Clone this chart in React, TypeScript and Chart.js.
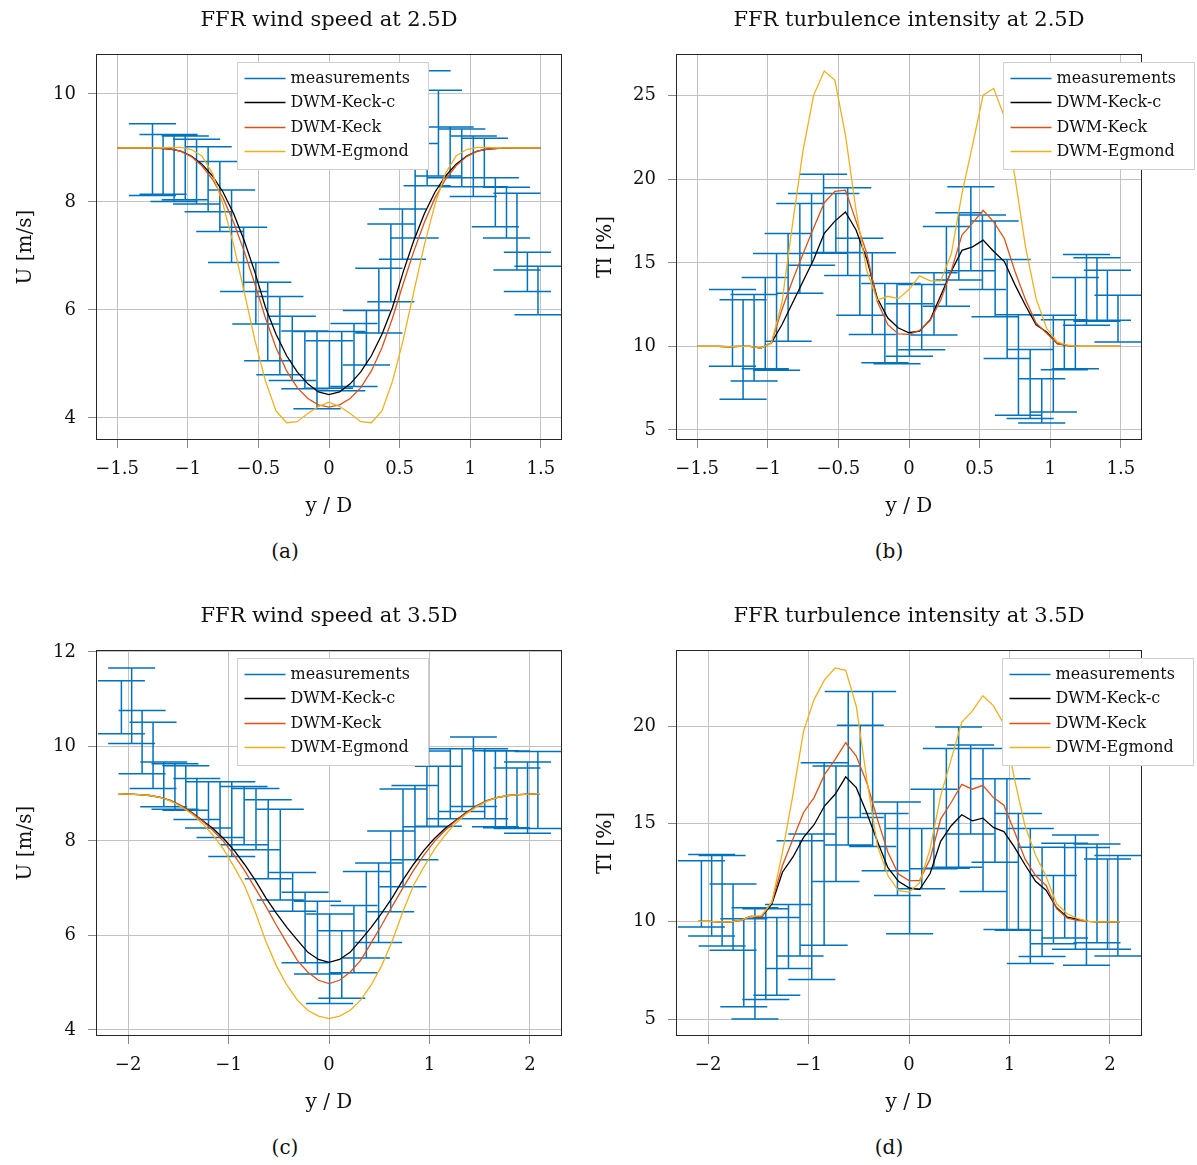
import React, { useEffect, useRef } from 'react';
import { Chart, registerables } from 'chart.js';

Chart.register(...registerables);

const FONT = "'DejaVu Serif', 'Liberation Serif', serif";
const BLUE = '#0072BD';
const BLACK = '#000000';
const RED = '#D95319';
const YELLOW = '#EDB120';

// ---------- 2.5D ----------
const X_GRID_25 = [-1.5, -1.425, -1.35, -1.275, -1.2, -1.125, -1.05, -0.975, -0.9, -0.825, -0.75, -0.675, -0.6, -0.525, -0.45, -0.375, -0.3, -0.225, -0.15, -0.075, 0, 0.075, 0.15, 0.225, 0.3, 0.375, 0.45, 0.525, 0.6, 0.675, 0.75, 0.825, 0.9, 0.975, 1.05, 1.125, 1.2, 1.275, 1.35, 1.425, 1.5];

const U25_KECKC = [9.0, 9.0, 9.0, 9.0, 8.99, 8.98, 8.94, 8.85, 8.7, 8.48, 8.18, 7.78, 7.28, 6.7, 6.05, 5.55, 5.15, 4.85, 4.63, 4.48, 4.43, 4.48, 4.63, 4.85, 5.15, 5.55, 6.05, 6.7, 7.28, 7.78, 8.18, 8.48, 8.7, 8.85, 8.94, 8.98, 8.99, 9.0, 9.0, 9.0, 9.0];
const U25_KECK = [9.0, 9.0, 9.0, 9.0, 8.99, 8.98, 8.94, 8.84, 8.67, 8.42, 8.07, 7.62, 7.08, 6.48, 5.85, 5.3, 4.87, 4.56, 4.36, 4.24, 4.2, 4.24, 4.36, 4.56, 4.87, 5.3, 5.85, 6.48, 7.08, 7.62, 8.07, 8.42, 8.67, 8.84, 8.94, 8.98, 8.99, 9.0, 9.0, 9.0, 9.0];
const U25_EGMOND = [9.0, 9.0, 9.0, 9.0, 9.0, 9.01, 9.01, 8.97, 8.85, 8.53, 7.95, 7.2, 6.33, 5.44, 4.68, 4.13, 3.91, 3.93, 4.08, 4.21, 4.29, 4.21, 4.08, 3.93, 3.91, 4.13, 4.68, 5.44, 6.33, 7.2, 7.95, 8.53, 8.85, 8.97, 9.01, 9.01, 9.0, 9.0, 9.0, 9.0, 9.0];

const TI25_KECKC = [10.0, 10.0, 10.0, 9.98, 10.0, 10.0, 9.9, 10.2, 11.3, 12.6, 13.9, 15.2, 16.77, 17.5, 18.05, 16.97, 15.25, 12.9, 11.7, 11.1, 10.82, 10.92, 11.6, 13.05, 14.5, 15.75, 15.96, 16.36, 15.68, 15.08, 13.7, 12.45, 11.3, 10.87, 10.17, 10.05, 10.0, 10.0, 10.0, 10.0, 10.0];
const TI25_KECK = [10.0, 10.0, 10.0, 9.98, 10.0, 10.0, 9.9, 10.2, 12.2, 13.95, 15.55, 17.1, 18.6, 19.28, 19.35, 17.5, 15.6, 12.7, 11.3, 10.75, 10.72, 10.95, 11.55, 12.78, 14.55, 16.67, 17.38, 18.15, 17.45, 16.46, 14.5, 12.8, 11.4, 10.78, 10.17, 10.05, 10.0, 10.0, 10.0, 10.0, 10.0];
const TI25_EGMOND = [10.0, 10.0, 10.0, 9.98, 10.0, 10.0, 9.9, 10.2, 12.6, 17.3, 21.75, 25.04, 26.48, 25.94, 22.65, 18.15, 14.56, 12.77, 13.0, 12.86, 13.4, 14.22, 13.92, 13.92, 15.56, 19.15, 22.05, 25.04, 25.44, 23.74, 20.15, 15.96, 12.86, 11.07, 10.27, 10.07, 10.0, 10.0, 10.0, 10.0, 10.0];

const MEAS_X_25 = [-1.25, -1.175, -1.097, -1.018, -0.938, -0.856, -0.773, -0.69, -0.605, -0.518, -0.434, -0.348, -0.26, -0.171, -0.085, 0.003, 0.09, 0.177, 0.265, 0.353, 0.438, 0.52, 0.61, 0.695, 0.775, 0.858, 0.94, 1.022, 1.1, 1.178, 1.257, 1.331, 1.405, 1.48];
const U25_LO = [8.12, 8.14, 8.01, 8.04, 7.96, 7.82, 7.45, 6.88, 6.34, 5.74, 5.06, 4.8, 4.69, 4.54, 4.17, 4.55, 4.5, 4.58, 4.98, 5.57, 6.15, 6.94, 7.33, 8.3, 8.48, 8.45, 8.28, 8.1, 8.28, 7.54, 7.33, 6.74, 6.34, 5.91];
const U25_HI = [9.45, 9.25, 9.25, 9.22, 9.16, 9.02, 8.75, 8.22, 7.53, 6.88, 6.51, 6.25, 5.88, 5.61, 5.6, 5.43, 5.6, 5.75, 5.99, 6.77, 7.59, 7.87, 9.08, 10.43, 10.07, 9.39, 9.35, 9.22, 9.18, 8.45, 8.27, 8.16, 7.07, 6.81];
const TI25_LO = [8.81, 6.84, 7.93, 8.67, 8.57, 10.31, 13.18, 14.86, 15.57, 15.62, 14.24, 11.87, 10.72, 9.03, 8.97, 9.41, 9.8, 10.68, 12.41, 13.97, 14.53, 13.41, 11.77, 9.27, 5.88, 5.68, 5.42, 6.08, 8.6, 8.67, 11.27, 11.5, 11.57, 10.27];
const TI25_HI = [13.4, 12.8, 13.1, 14.12, 15.56, 16.76, 18.55, 19.15, 20.3, 19.15, 19.49, 16.47, 15.61, 13.76, 13.77, 12.56, 13.71, 14.41, 17.17, 18.0, 19.56, 17.86, 17.5, 15.2, 11.9, 9.82, 8.07, 11.87, 11.6, 14.12, 15.5, 15.3, 14.56, 13.06];

// ---------- 3.5D ----------
const X_GRID_35 = [-2.1, -1.995, -1.89, -1.785, -1.68, -1.575, -1.47, -1.365, -1.26, -1.155, -1.05, -0.945, -0.84, -0.735, -0.63, -0.525, -0.42, -0.315, -0.21, -0.105, 0, 0.105, 0.21, 0.315, 0.42, 0.525, 0.63, 0.735, 0.84, 0.945, 1.05, 1.155, 1.26, 1.365, 1.47, 1.575, 1.68, 1.785, 1.89, 1.995, 2.1];

const U35_KECKC = [9.0, 8.99, 8.98, 8.96, 8.92, 8.85, 8.74, 8.6, 8.43, 8.26, 8.05, 7.8, 7.5, 7.17, 6.8, 6.47, 6.17, 5.9, 5.64, 5.49, 5.43, 5.49, 5.64, 5.9, 6.17, 6.47, 6.8, 7.17, 7.5, 7.8, 8.05, 8.26, 8.43, 8.6, 8.74, 8.85, 8.92, 8.96, 8.98, 8.99, 9.0];
const U35_KECK = [9.0, 8.99, 8.98, 8.96, 8.92, 8.85, 8.74, 8.59, 8.42, 8.22, 7.99, 7.7, 7.37, 7.0, 6.62, 6.22, 5.84, 5.47, 5.22, 5.05, 4.98, 5.05, 5.22, 5.47, 5.84, 6.22, 6.62, 7.0, 7.37, 7.7, 7.99, 8.22, 8.42, 8.59, 8.74, 8.85, 8.92, 8.96, 8.98, 8.99, 9.0];
const U35_EGMOND = [9.0, 8.99, 8.98, 8.96, 8.92, 8.84, 8.72, 8.57, 8.37, 8.12, 7.82, 7.45, 7.05, 6.5, 5.88, 5.36, 4.95, 4.63, 4.41, 4.29, 4.24, 4.29, 4.41, 4.63, 4.95, 5.36, 5.88, 6.5, 7.05, 7.45, 7.82, 8.12, 8.37, 8.57, 8.72, 8.84, 8.92, 8.96, 8.98, 8.99, 9.0];

const TI35_KECKC = [10.0, 10.0, 9.98, 9.97, 10.05, 10.25, 10.22, 10.9, 12.52, 13.3, 14.3, 14.95, 15.92, 16.51, 17.4, 16.85, 15.55, 14.1, 12.75, 12.05, 11.72, 11.63, 12.45, 14.1, 14.9, 15.46, 15.15, 15.29, 14.81, 14.6, 13.8, 12.9, 12.05, 11.6, 10.7, 10.22, 10.1, 10.0, 9.98, 9.98, 9.98];
const TI35_KECK = [10.0, 10.0, 9.98, 9.97, 10.05, 10.25, 10.22, 11.0, 12.86, 14.22, 15.58, 16.34, 17.53, 18.3, 19.15, 18.47, 17.1, 15.24, 13.54, 12.43, 12.09, 12.09, 13.2, 15.24, 16.09, 17.02, 16.77, 16.97, 16.34, 15.95, 14.6, 13.2, 12.35, 11.84, 10.65, 10.17, 10.05, 10.0, 9.98, 9.98, 9.98];
const TI35_EGMOND = [10.0, 10.0, 9.98, 9.97, 10.05, 10.25, 10.3, 11.0, 13.54, 16.5, 19.74, 21.36, 22.38, 22.98, 22.86, 21.02, 17.28, 13.88, 12.35, 11.58, 11.5, 11.97, 13.71, 16.43, 18.3, 20.2, 20.77, 21.56, 21.05, 20.1, 17.3, 14.9, 13.4, 12.3, 10.9, 10.39, 10.14, 10.0, 9.98, 9.98, 9.98];

const MEAS_X_35 = [-2.067, -1.965, -1.861, -1.752, -1.645, -1.534, -1.426, -1.316, -1.2, -1.085, -0.968, -0.845, -0.727, -0.605, -0.485, -0.362, -0.238, -0.115, 0.006, 0.127, 0.248, 0.372, 0.494, 0.614, 0.737, 0.856, 0.975, 1.089, 1.208, 1.325, 1.438, 1.55, 1.657, 1.767, 1.872, 1.977, 2.08];
const U35_LO = [10.27, 10.06, 9.42, 9.11, 8.72, 8.67, 8.65, 8.45, 8.27, 8.07, 7.67, 7.92, 7.81, 7.2, 6.75, 6.51, 5.42, 5.18, 4.56, 4.67, 5.21, 5.52, 5.85, 6.5, 7.03, 7.6, 8.3, 8.31, 8.47, 8.62, 8.73, 8.47, 8.3, 8.28, 8.26, 8.16, 8.26];
const U35_HI = [11.39, 11.66, 10.76, 10.51, 9.67, 9.63, 9.59, 9.32, 9.25, 9.25, 9.25, 9.15, 9.11, 8.87, 8.67, 7.33, 6.91, 6.72, 6.45, 6.1, 6.63, 7.35, 7.53, 8.21, 9.1, 9.17, 9.9, 9.58, 9.95, 9.95, 10.2, 9.95, 9.91, 9.9, 9.54, 9.67, 9.89];
const TI35_LO = [9.71, 9.25, 8.74, 8.52, 5.63, 5.0, 6.0, 6.22, 7.59, 8.23, 7.02, 8.78, 12.04, 13.91, 15.32, 13.83, 12.6, 11.33, 9.37, 11.67, 12.7, 12.72, 12.77, 14.47, 11.53, 13.03, 9.59, 9.54, 7.84, 8.2, 8.86, 9.15, 8.57, 7.76, 8.9, 8.57, 8.23];
const TI35_HI = [13.11, 13.42, 13.37, 11.92, 10.14, 10.7, 10.65, 10.2, 10.87, 14.13, 14.47, 18.13, 17.96, 21.78, 20.05, 21.78, 15.53, 16.12, 14.76, 14.76, 16.77, 18.86, 19.95, 19.03, 18.86, 17.31, 17.31, 15.53, 14.76, 13.8, 12.35, 14.0, 14.42, 13.79, 13.96, 13.2, 13.37];

// ---------- axes ----------
const X_TICKS_25 = [-1.5, -1, -0.5, 0, 0.5, 1, 1.5];
const X_TICKS_35 = [-2, -1, 0, 1, 2];
const U25_TICKS = [4, 6, 8, 10];
const TI25_TICKS = [5, 10, 15, 20, 25];
const U35_TICKS = [4, 6, 8, 10, 12];
const TI35_TICKS = [5, 10, 15, 20];

const LEGEND_LABELS = ['measurements', 'DWM-Keck-c', 'DWM-Keck', 'DWM-Egmond'];

const CAP_25 = 0.167;
const CAP_35 = 0.234;

function errorBarPoints(xs: number[], lo: number[], hi: number[], cap: number) {
  const pts: { x: number; y: number | null }[] = [];
  for (let i = 0; i < xs.length; i++) {
    const x = xs[i];
    pts.push({ x: x - cap, y: hi[i] }, { x: x + cap, y: hi[i] }, { x, y: null });
    pts.push({ x, y: hi[i] }, { x, y: lo[i] }, { x, y: null });
    pts.push({ x: x - cap, y: lo[i] }, { x: x + cap, y: lo[i] }, { x, y: null });
  }
  return pts;
}

function xy(xs: number[], ys: number[]) {
  return xs.map((x, i) => ({ x, y: ys[i] }));
}

const fmt = (v: any) => {
  const n = Math.round(Number(v) * 1000) / 1000;
  return String(n).replace('-', '\u2212');
};

const framePlugin = {
  id: 'frame',
  afterDatasetsDraw(chart: any) {
    const { ctx, chartArea: a } = chart;
    ctx.save();
    ctx.strokeStyle = '#262626';
    ctx.lineWidth = 1;
    ctx.strokeRect(Math.round(a.left) + 0.5, Math.round(a.top) + 0.5, Math.round(a.right - a.left) - 1, Math.round(a.bottom - a.top) - 1);
    ctx.restore();
  },
};

const legendPlugin = {
  id: 'panelLegend',
  afterDraw(chart: any, _args: any, opts: any) {
    const { ctx, chartArea } = chart;
    const left = Math.round(chartArea.left + opts.offsetX) + 0.5;
    const top = Math.round(chartArea.top + opts.offsetY) + 0.5;
    ctx.save();
    ctx.fillStyle = '#ffffff';
    ctx.fillRect(left, top, opts.width, opts.height);
    ctx.strokeStyle = '#d0d0d0';
    ctx.lineWidth = 1;
    ctx.strokeRect(left, top, opts.width, opts.height);
    ctx.font = `16px ${FONT}`;
    ctx.textBaseline = 'middle';
    ctx.textAlign = 'left';
    chart.data.datasets.forEach((ds: any, i: number) => {
      const y = Math.round(top + 15 + i * 24.5) + 0.5;
      ctx.strokeStyle = ds.borderColor;
      ctx.lineWidth = 1.4;
      ctx.beginPath();
      ctx.moveTo(left + 7, y);
      ctx.lineTo(left + 48, y);
      ctx.stroke();
      ctx.fillStyle = '#111111';
      ctx.fillText(ds.label, left + 53, y);
    });
    ctx.restore();
  },
};

type Panel = {
  title: string;
  yTitle: string;
  xMin: number;
  xMax: number;
  yMin: number;
  yMax: number;
  xTicks: number[];
  yTicks: number[];
  grid: number[];
  keckc: number[];
  keck: number[];
  egmond: number[];
  measX: number[];
  lo: number[];
  hi: number[];
  cap: number;
  left: number;
  top: number;
  width: number;
  legendX: number;
};

const PANELS: Panel[] = [
  { title: 'FFR wind speed at 2.5D', yTitle: 'U [m/s]', xMin: -1.65, xMax: 1.65, yMin: 3.59, yMax: 10.74, xTicks: X_TICKS_25, yTicks: U25_TICKS, grid: X_GRID_25, keckc: U25_KECKC, keck: U25_KECK, egmond: U25_EGMOND, measX: MEAS_X_25, lo: U25_LO, hi: U25_HI, cap: CAP_25, left: 0, top: 0, width: 600, legendX: 141 },
  { title: 'FFR turbulence intensity at 2.5D', yTitle: 'TI [%]', xMin: -1.65, xMax: 1.65, yMin: 4.4, yMax: 27.5, xTicks: X_TICKS_25, yTicks: TI25_TICKS, grid: X_GRID_25, keckc: TI25_KECKC, keck: TI25_KECK, egmond: TI25_EGMOND, measX: MEAS_X_25, lo: TI25_LO, hi: TI25_HI, cap: CAP_25, left: 580, top: 0, width: 617, legendX: 327 },
  { title: 'FFR wind speed at 3.5D', yTitle: 'U [m/s]', xMin: -2.32, xMax: 2.32, yMin: 3.87, yMax: 12.04, xTicks: X_TICKS_35, yTicks: U35_TICKS, grid: X_GRID_35, keckc: U35_KECKC, keck: U35_KECK, egmond: U35_EGMOND, measX: MEAS_X_35, lo: U35_LO, hi: U35_HI, cap: CAP_35, left: 0, top: 596, width: 600, legendX: 141 },
  { title: 'FFR turbulence intensity at 3.5D', yTitle: 'TI [%]', xMin: -2.32, xMax: 2.32, yMin: 4.13, yMax: 23.9, xTicks: X_TICKS_35, yTicks: TI35_TICKS, grid: X_GRID_35, keckc: TI35_KECKC, keck: TI35_KECK, egmond: TI35_EGMOND, measX: MEAS_X_35, lo: TI35_LO, hi: TI35_HI, cap: CAP_35, left: 580, top: 596, width: 617, legendX: 326 },
];

const CAPTIONS = ['(a)', '(b)', '(c)', '(d)'];
const CANVAS_H = 519;
const X_AXIS_H = 79;
const PLOT_RIGHT = 562; // canvas-relative right edge of plot area

function PanelChart({ p }: { p: Panel }) {
  const ref = useRef<HTMLCanvasElement | null>(null);
  useEffect(() => {
    if (!ref.current) return;
    const tickFont = { family: FONT, size: 18 };
    const titleFont = { family: FONT, size: 20 };
    const gridOpts = { color: '#c2c2c2', lineWidth: 1, drawTicks: true, tickLength: 8, tickColor: '#8a8a8a' };
    const chart = new Chart(ref.current, {
      type: 'line',
      data: {
        datasets: [
          { label: LEGEND_LABELS[0], data: errorBarPoints(p.measX, p.lo, p.hi, p.cap), borderColor: BLUE, borderWidth: 1.5, pointRadius: 0, spanGaps: false, order: 4 },
          { label: LEGEND_LABELS[1], data: xy(p.grid, p.keckc), borderColor: BLACK, borderWidth: 1.3, pointRadius: 0, order: 3 },
          { label: LEGEND_LABELS[2], data: xy(p.grid, p.keck), borderColor: RED, borderWidth: 1.3, pointRadius: 0, order: 2 },
          { label: LEGEND_LABELS[3], data: xy(p.grid, p.egmond), borderColor: YELLOW, borderWidth: 1.3, pointRadius: 0, order: 1 },
        ] as any,
      },
      options: {
        responsive: false,
        animation: false,
        events: [],
        layout: { padding: { left: 0, right: p.width - PLOT_RIGHT, top: 0, bottom: 0 } },
        plugins: {
          legend: { display: false },
          tooltip: { enabled: false },
          title: { display: true, fullSize: false, text: p.title, color: '#111', font: { family: FONT, size: 21, weight: 'normal', lineHeight: 1.2 }, padding: { top: 8, bottom: 20.8 } },
          panelLegend: { offsetX: p.legendX, offsetY: 8, width: 191, height: 107 },
        } as any,
        scales: {
          x: {
            type: 'linear',
            min: p.xMin,
            max: p.xMax,
            afterBuildTicks: (s: any) => { s.ticks = p.xTicks.map((v) => ({ value: v })); },
            afterFit: (s: any) => { s.height = X_AXIS_H; },
            ticks: { callback: fmt, font: tickFont, color: '#111', padding: 11, maxRotation: 0, autoSkip: false },
            grid: gridOpts,
            border: { display: false },
            title: { display: true, text: 'y / D', color: '#111', font: titleFont, padding: { top: 0, bottom: 0 } },
          },
          y: {
            type: 'linear',
            min: p.yMin,
            max: p.yMax,
            afterBuildTicks: (s: any) => { s.ticks = p.yTicks.map((v) => ({ value: v })); },
            afterFit: (s: any) => { s.width = 96; },
            ticks: { callback: fmt, font: tickFont, color: '#111', padding: 12 },
            grid: gridOpts,
            border: { display: false },
            title: { display: true, text: p.yTitle, color: '#111', font: titleFont, padding: { top: 14, bottom: 0 } },
          },
        },
      } as any,
      plugins: [framePlugin, legendPlugin] as any,
    });
    return () => chart.destroy();
  }, [p]);
  return (
    <canvas
      ref={ref}
      width={p.width}
      height={CANVAS_H}
      style={{ position: 'absolute', left: p.left, top: p.top, width: p.width, height: CANVAS_H }}
    />
  );
}

export default function App() {
  return (
    <div style={{ position: 'absolute', left: 0, top: 0, width: 1197, height: 1165, overflow: 'hidden', background: '#ffffff' }}>
      {PANELS.map((p, i) => (
        <PanelChart key={i} p={p} />
      ))}
      {CAPTIONS.map((c, i) => (
        <div
          key={c}
          style={{
            position: 'absolute',
            left: (i % 2 === 0 ? 285 : 889) - 50,
            top: (i < 2 ? 551 : 1147) - 12,
            width: 100,
            height: 24,
            lineHeight: '24px',
            textAlign: 'center',
            fontFamily: FONT,
            fontSize: 20,
            color: '#111',
          }}
        >
          {c}
        </div>
      ))}
    </div>
  );
}
